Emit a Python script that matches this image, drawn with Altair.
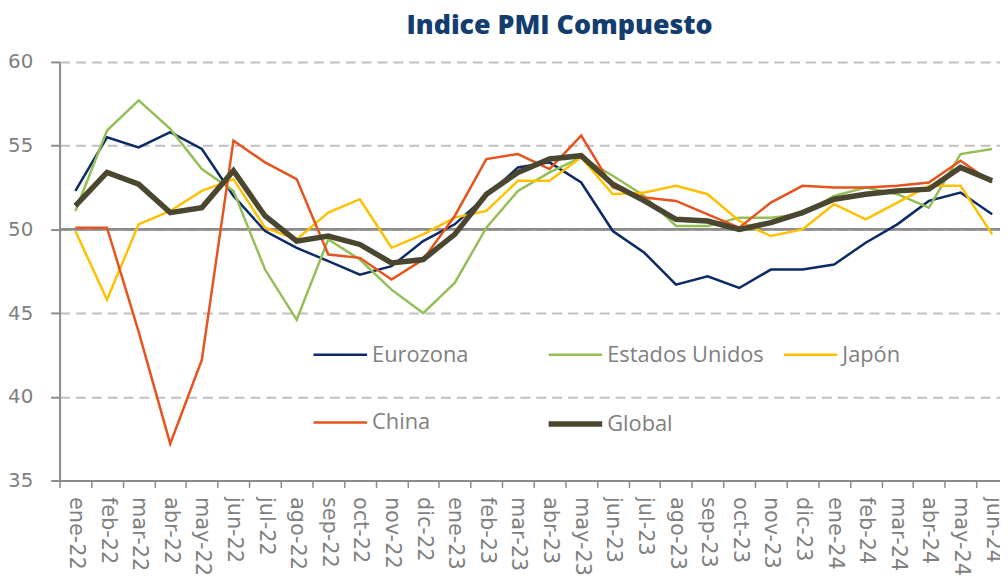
import altair as alt
import pandas as pd

months = ["ene-22", "feb-22", "mar-22", "abr-22", "may-22", "jun-22", "jul-22", "ago-22",
          "sep-22", "oct-22", "nov-22", "dic-22", "ene-23", "feb-23", "mar-23", "abr-23",
          "may-23", "jun-23", "jul-23", "ago-23", "sep-23", "oct-23", "nov-23", "dic-23",
          "ene-24", "feb-24", "mar-24", "abr-24", "may-24", "jun-24"]

eurozona = [52.3, 55.5, 54.9, 55.8, 54.8, 52.0, 49.9, 48.9, 48.1, 47.3, 47.8, 49.3,
            50.3, 52.0, 53.7, 54.0, 52.8, 49.9, 48.6, 46.7, 47.2, 46.5, 47.6, 47.6,
            47.9, 49.2, 50.3, 51.7, 52.2, 50.9]
estados_unidos = [51.1, 55.9, 57.7, 56.0, 53.6, 52.3, 47.6, 44.6, 49.4, 48.2, 46.4, 45.0,
                  46.8, 50.1, 52.3, 53.4, 54.3, 53.2, 52.0, 50.2, 50.2, 50.7, 50.7, 50.9,
                  52.0, 52.5, 52.1, 51.3, 54.5, 54.8]
japon = [49.9, 45.8, 50.3, 51.1, 52.3, 53.0, 50.1, 49.4, 51.0, 51.8, 48.9, 49.7,
         50.7, 51.1, 52.9, 52.9, 54.3, 52.1, 52.2, 52.6, 52.1, 50.5, 49.6, 50.0,
         51.5, 50.6, 51.6, 52.6, 52.6, 49.7]
china = [50.1, 50.1, 43.9, 37.2, 42.2, 55.3, 54.0, 53.0, 48.5, 48.3, 47.0, 48.2,
         50.8, 54.2, 54.5, 53.6, 55.6, 52.5, 51.9, 51.7, 50.9, 50.1, 51.6, 52.6,
         52.5, 52.5, 52.6, 52.8, 54.1, 52.8]
global_ = [51.4, 53.4, 52.7, 51.0, 51.3, 53.5, 50.8, 49.3, 49.6, 49.1, 48.0, 48.2,
           49.7, 52.1, 53.4, 54.2, 54.4, 52.7, 51.7, 50.6, 50.5, 50.0, 50.4, 51.0,
           51.8, 52.1, 52.3, 52.4, 53.7, 52.9]

series_names = ["Eurozona", "Estados Unidos", "Japón", "China", "Global"]
series_values = [eurozona, estados_unidos, japon, china, global_]
series_colors = ["#0B2A66", "#92BF56", "#FFC000", "#E5531E", "#4A4630"]
series_widths = [2.5, 2.5, 2.5, 2.5, 5.5]

rows = []
for name, vals in zip(series_names, series_values):
    for m, v in zip(months, vals):
        rows.append({"mes": m, "serie": name, "valor": v})
df = pd.DataFrame(rows)

gray = "#8c8c8c"
label_gray = "#7f7f7f"

x_enc = alt.X(
    "mes:O", sort=months,
    scale=alt.Scale(type="band", paddingInner=0, paddingOuter=0),
    axis=alt.Axis(title=None, labelAngle=90, tickBand="extent", grid=False,
                  domainColor=gray, domainWidth=2, tickColor=gray, tickWidth=1.5,
                  tickSize=7, labelFontSize=21, labelFont="DejaVu Sans",
                  labelColor=label_gray, labelPadding=9),
)
y_enc = alt.Y(
    "valor:Q",
    scale=alt.Scale(domain=[35, 60], nice=False, zero=False),
    axis=alt.Axis(title=None, values=[35, 40, 45, 50, 55, 60], grid=True,
                  gridColor="#c0c0c0", gridDash=[10, 6], gridWidth=2,
                  domainColor=gray, domainWidth=2, tickColor=gray, tickWidth=2,
                  tickSize=9, labelFontSize=20, labelFont="DejaVu Sans",
                  labelColor=label_gray, labelPadding=18),
)

legend_def = alt.Legend(title=None, orient="none", legendX=253, legendY=266,
                        direction="horizontal", columns=3, symbolType="stroke",
                        symbolSize=2916, labelFontSize=22, labelFont="Open Sans",
                        labelColor=label_gray, labelOffset=2, columnPadding=9,
                        rowPadding=28, gridAlign="all", padding=0, labelLimit=400)

color_enc = alt.Color(
    "serie:N",
    scale=alt.Scale(domain=series_names, range=series_colors),
    legend=legend_def,
)
width_enc = alt.StrokeWidth(
    "serie:N",
    scale=alt.Scale(type="ordinal", domain=series_names, range=series_widths),
    legend=legend_def,
)

ref = alt.Chart(pd.DataFrame({"valor": [50]})).mark_rule(
    color=gray, strokeWidth=3).encode(y=alt.Y("valor:Q"))

lines = alt.Chart(df).transform_filter(alt.datum.serie != "Global").mark_line().encode(
    x=x_enc, y=y_enc, color=color_enc, strokeWidth=width_enc)
glob = alt.Chart(df).transform_filter(alt.datum.serie == "Global").mark_line().encode(
    x=x_enc, y=y_enc, color=color_enc, strokeWidth=width_enc)

chart = alt.layer(ref, lines, glob).properties(
    width=956, height=422,
    title=alt.Title("Indice PMI Compuesto", fontSize=27, font="Open Sans",
                    fontWeight=800, color="#133D6E", anchor="middle", dx=26, offset=12),
    padding={"left": 52, "top": 52, "right": -8, "bottom": 110},
    autosize=alt.AutoSizeParams(type="none"),
).configure_view(stroke=None)

chart.save("out.html", embed_options={"renderer": "svg", "actions": False})
